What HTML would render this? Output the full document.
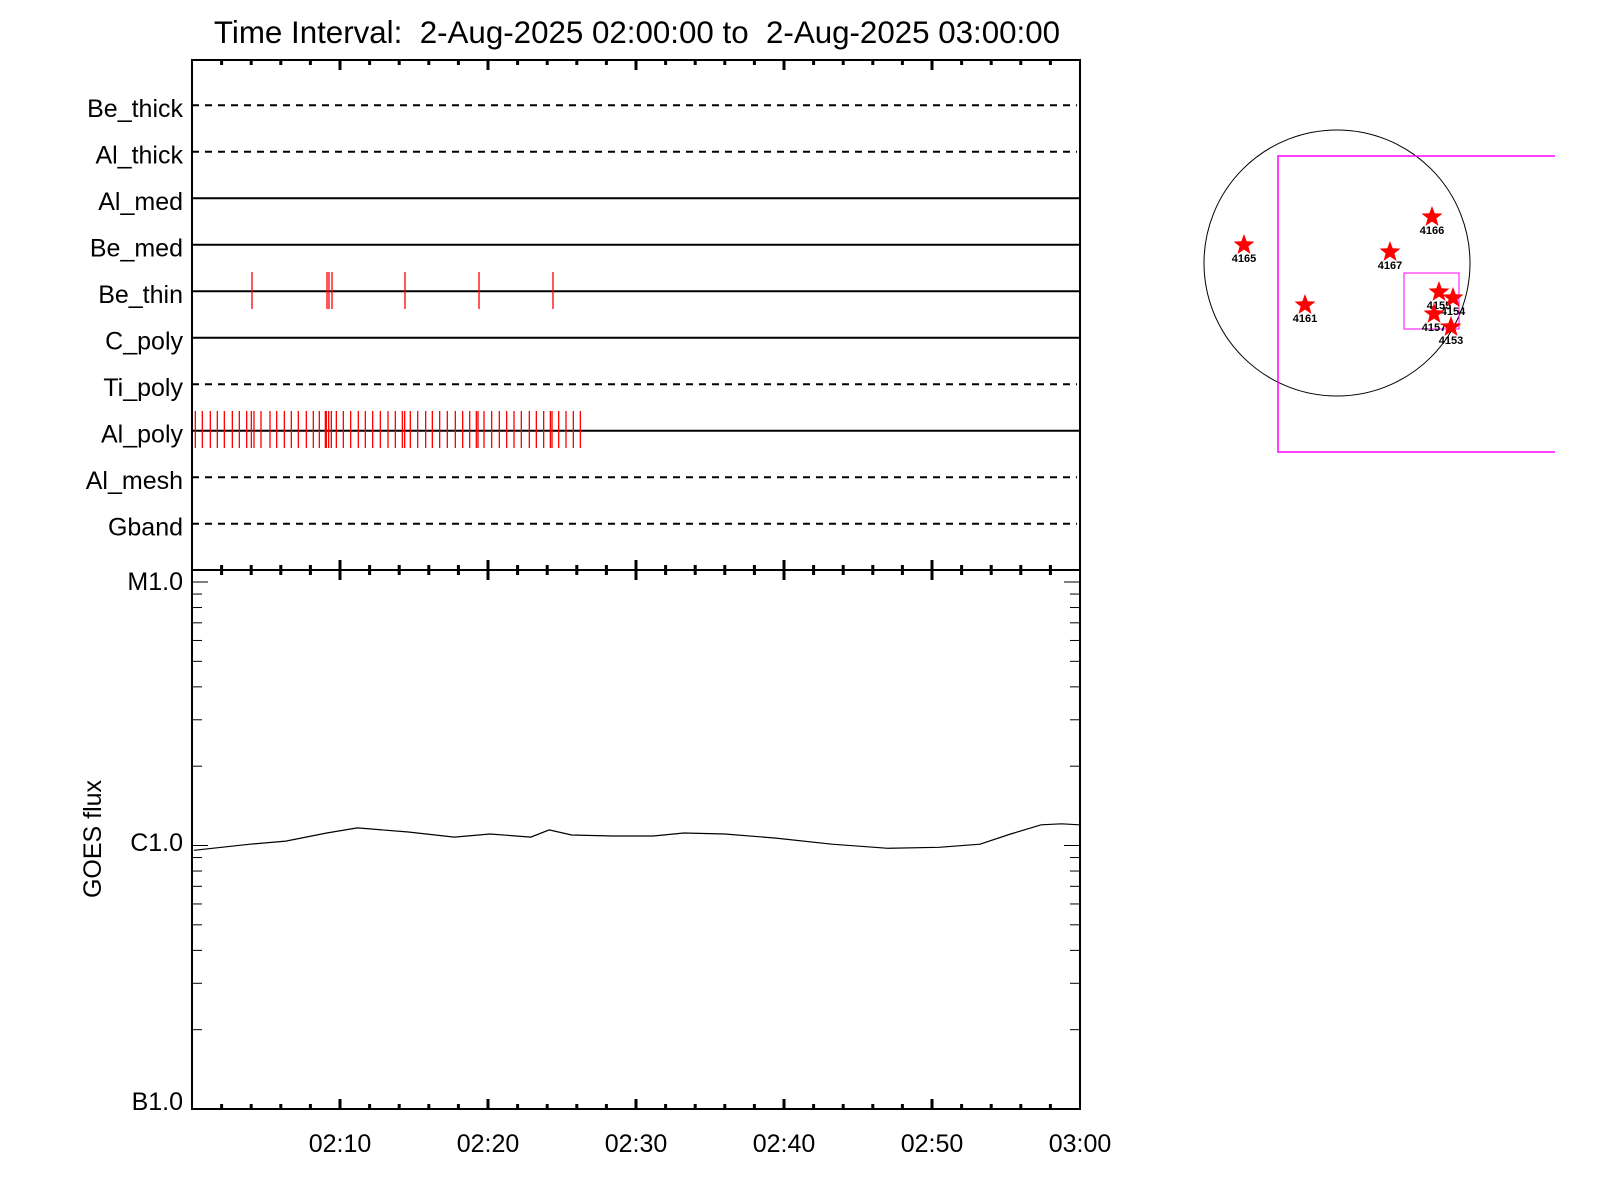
<!DOCTYPE html>
<html><head><meta charset="utf-8"><style>
html,body{margin:0;padding:0;background:#fff;}
svg{display:block;font-family:"Liberation Sans",sans-serif;}
</style></head><body>
<svg id="s" width="1600" height="1200" viewBox="0 0 1600 1200" xmlns="http://www.w3.org/2000/svg">
<rect width="1600" height="1200" fill="#fff"/>
<text x="637" y="43" font-size="31.3" text-anchor="middle" style="white-space:pre" xml:space="preserve">Time Interval:  2-Aug-2025 02:00:00 to  2-Aug-2025 03:00:00</text>
<g id="g"></g>
<text transform="translate(101,839) rotate(-90)" font-size="25" text-anchor="middle">GOES flux</text>
<g font-size="25" text-anchor="middle">
<text x="340" y="1152">02:10</text><text x="488" y="1152">02:20</text><text x="636" y="1152">02:30</text>
<text x="784" y="1152">02:40</text><text x="932" y="1152">02:50</text><text x="1080" y="1152">03:00</text>
</g>
<g font-size="25" text-anchor="end">
<text x="183" y="590">M1.0</text><text x="183" y="851">C1.0</text><text x="183" y="1110">B1.0</text>
</g>
<circle cx="1337" cy="263" r="133" fill="none" stroke="#000" stroke-width="1"/>
<polyline points="1555,156 1278,156 1278,452 1555,452" fill="none" stroke="#f0f" stroke-width="1.5"/>
<rect x="1404" y="273" width="55" height="56" fill="none" stroke="#f0f" stroke-width="1"/>
<g id="stars" font-size="11" font-weight="bold" text-anchor="middle"></g>
</svg>
<script>
const g=document.getElementById('g');const NS='http://www.w3.org/2000/svg';
function el(t,a,p){const e=document.createElementNS(NS,t);for(const k in a)e.setAttribute(k,a[k]);(p||g).appendChild(e);return e;}
function ln(x1,y1,x2,y2,c,w,d){const a={x1,y1,x2,y2,stroke:c||'#000','stroke-width':w||2};if(d)a['stroke-dasharray']=d;el('line',a);}
const L=192,R=1080,T=60,M=570,B=1109,px=(R-L)/60;
const names=['Be_thick','Al_thick','Al_med','Be_med','Be_thin','C_poly','Ti_poly','Al_poly','Al_mesh','Gband'];
const dash=[1,1,0,0,0,0,1,0,1,1];
names.forEach((n,i)=>{const y=105.2+46.5*i;
 if(dash[i])ln(L,y,1077,y,'#000',2,'7,6');else ln(L,y,R,y,'#000',2);
 const t=el('text',{x:183,y:y+12,'font-size':25,'text-anchor':'end'});t.textContent=n;});
[252,327,329,332,405,479,553].forEach(x=>ln(x,272,x,309,'#f00',1.3));
[46,67,91,112,133,157,178,200,214,222,243,270,290,313,334,355,379,400,418,436,439,446,454,469,490,512,535,556,578,601,624,646,667,674,691,713,737,757,779,802,826,848,869,889,894,912,935,958,980,1002,1024,1048,1069,1091,1111,1116,1136,1158,1180,1201].forEach(z=>{const x=180+z/3;ln(x,411,x,448,'#f00',1.3);});
el('rect',{x:L,y:T,width:R-L,height:B-T,fill:'none',stroke:'#000','stroke-width':2});
ln(L,M,R,M,'#000',2);
for(let m=2;m<60;m+=2){const x=L+m*px,maj=m%10==0,h=maj?10:5;
 ln(x,T,x,T+h,'#000',3);ln(x,M-h,x,M+h,'#000',3);ln(x,B-h,x,B,'#000',3);}
const yM=582,yB=1109,dec=(yB-yM)/2;
for(let d=0;d<2;d++)for(let k=1;k<=9;k++){const y=yB-d*dec-Math.log10(k)*dec;const w=k==1?16:10;
 ln(L,y,L+w,y,'#000',1);ln(R-w,y,R,y,'#000',1);}
ln(L,yM,L+16,yM,'#000',1);ln(R-16,yM,R,yM,'#000',1);
const pts=[[190,833],[245,827],[280,824],[320,816],[350,811],[400,815],[445,820],[480,817],[520,820],[538,813],[560,818],[600,819],[640,819],[670,816],[710,817],[760,821],[815,827],[870,831],[920,830],[960,827],[990,817],[1020,808],[1040,807],[1057,808]];
el('polyline',{points:pts.map(p=>(p[0]*1.0208).toFixed(1)+','+(p[1]*1.0208).toFixed(1)).join(' '),fill:'none',stroke:'#000','stroke-width':1.2});
const sg=document.getElementById('stars');
function star(cx,cy,r){let p=[];for(let i=0;i<10;i++){const a=-Math.PI/2+i*Math.PI/5,rr=i%2?r*0.42:r;p.push((cx+rr*Math.cos(a)).toFixed(1)+','+(cy+rr*Math.sin(a)).toFixed(1));}return p.join(' ');}
[['4166',1432,217],['4165',1244,245],['4167',1390,252],['4161',1305,305],['4155',1439,292],['4154',1453,298],['4157',1434,314],['4153',1451,327]].forEach(s=>{
 el('polygon',{points:star(s[1],s[2],11),fill:'#f00'},sg);
 const t=el('text',{x:s[1],y:s[2]+17},sg);t.textContent=s[0];});
</script>
</body></html>
